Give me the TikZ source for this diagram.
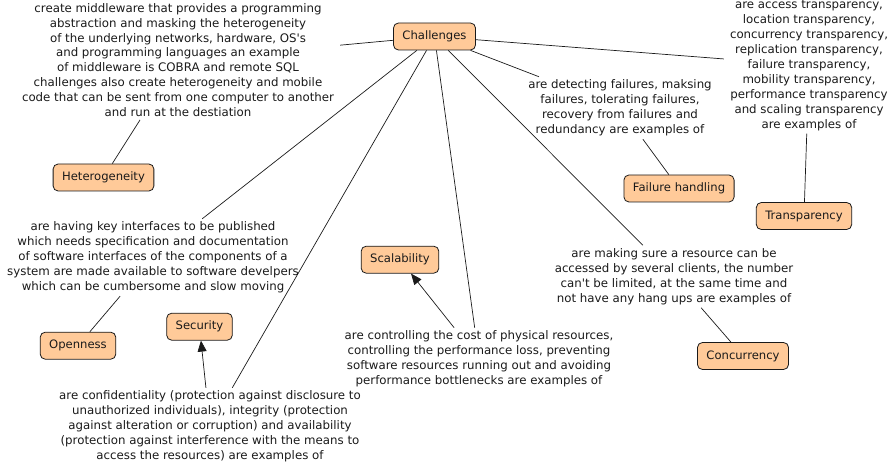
\documentclass[tikz,border=0pt]{standalone}
\usepackage{fontspec}
\setmainfont{DejaVu Sans}
\usetikzlibrary{arrows.meta}
\definecolor{peach}{HTML}{FFCA99}
\definecolor{ink}{HTML}{1A1A1A}
\begin{document}
\begin{tikzpicture}[x=1pt,y=-1pt,
  concept/.style={draw=ink, fill=peach, rounded corners=5pt, minimum height=27pt,
    inner xsep=9pt, inner ysep=0pt, line width=0.8pt, text=ink,
    font=\fontsize{11.6}{14.9}\selectfont},
  phrase/.style={align=center, inner xsep=6pt, inner ysep=3pt, text=ink,
    font=\fontsize{11.8}{14.9}\selectfont},
  link/.style={draw=ink, line width=0.7pt},
  arr/.style={link, -{Triangle[length=11pt,width=9pt]}}]
\useasboundingbox (0,0) rectangle (892,465);

% concepts
\node[concept] (ch)   at (434.5,36.5) {Challenges};
\node[concept] (het)  at (103.5,177.5) {Heterogeneity};
\node[concept] (fh)   at (679,188.5) {Failure handling};
\node[concept] (tr)   at (804,216) {Transparency};
\node[concept] (scal) at (400,259.7) {Scalability};
\node[concept] (sec)  at (199.5,326.7) {Security};
\node[concept] (open) at (78,345.7) {Openness};
\node[concept] (con)  at (743,356) {Concurrency};

% linking phrases
\node[phrase] (ht) at (178,60) {create middleware that provides a programming\\
abstraction and masking the heterogeneity\\
of the underlying networks, hardware, OS\textquotesingle s\\
and programming languages an example\\
of middleware is COBRA and remote SQL\\
challenges also create heterogeneity and mobile\\
code that can be sent from one computer to another\\
and run at the destiation};
\node[phrase] (ft) at (620,108) {are detecting failures, maksing\\
failures, tolerating failures,\\
recovery from failures and\\
redundancy are examples of};
\node[phrase] (tt) at (809,65.5) {are access transparency,\\
location transparency,\\
concurrency transparency,\\
replication transparency,\\
failure transparency,\\
mobility transparency,\\
performance transparency\\
and scaling transparency\\
are examples of};
\node[phrase] (ot) at (153,257.5) {are having key interfaces to be published\\
which needs specification and documentation\\
of software interfaces of the components of a\\
system are made available to software develpers\\
which can be cumbersome and slow moving};
\node[phrase] (st) at (210,426.5) {are confidentiality (protection against disclosure to\\
unauthorized individuals), integrity (protection\\
against alteration or corruption) and availability\\
(protection against interference with the means to\\
access the resources) are examples of};
\node[phrase] (sct) at (479,359) {are controlling the cost of physical resources,\\
controlling the performance loss, preventing\\
software resources running out and avoiding\\
performance bottlenecks are examples of};
\node[phrase] (ct) at (674,276.5) {are making sure a resource can be\\
accessed by several clients, the number\\
can\textquotesingle t be limited, at the same time and\\
not have any hang ups are examples of};

% connectors
\draw[link] (ch) -- (ht);
\draw[link] (ht) -- (het);
\draw[link] (ch) -- (ft);
\draw[link] (ft) -- (fh);
\draw[link] (ch) -- (tt);
\draw[link] (tt) -- (tr);
\draw[link] (ch) -- (ct);
\draw[link] (ct) -- (con);
\draw[link] (ch) -- (sct);
\draw[arr]  (sct) -- (scal);
\draw[link] (ch) -- (st);
\draw[arr]  (st) -- (sec);
\draw[link] (ch) -- (ot);
\draw[link] (ot) -- (open);
\end{tikzpicture}
\end{document}
